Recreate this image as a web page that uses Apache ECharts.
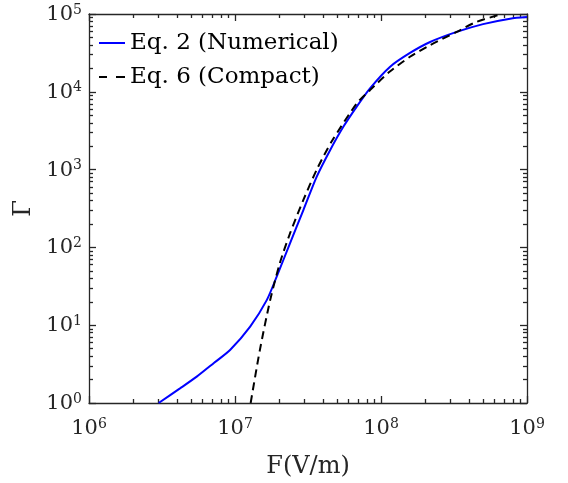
<!DOCTYPE html>
<html>
<head>
<meta charset="utf-8">
<title>Gamma vs F</title>
<script src="https://cdn.jsdelivr.net/npm/echarts@6/dist/echarts.min.js"></script>
<style>
  html, body { margin: 0; padding: 0; background: #fff; }
  #chart { width: 568px; height: 483px; }
</style>
</head>
<body>
<div id="chart"></div>
<script>
// Eq. 2 (numerical) curve
const numF = [3.0e6, 4.2e6, 5.47e6, 7.2e6, 9.25e6, 1.27e7, 1.65e7, 1.93e7, 2.38e7, 2.94e7, 3.63e7, 4.48e7, 5.52e7, 6.82e7, 8.41e7, 1.15e8, 1.58e8, 2.17e8, 3.3e8, 5.0e8, 7.66e8, 1e9]
const numGamma = [1, 1.54, 2.18, 3.29, 4.8, 9.6, 21, 42, 113, 302, 813, 1778, 3548, 6457, 11100, 20900, 31600, 43700, 58900, 74100, 87100, 91200]

// Eq. 6 (compact) curve
const cmpF = [1.28e7, 1.48e7, 1.74e7, 2.03e7, 2.38e7, 2.94e7, 3.63e7, 4.59e7, 6.82e7, 8.41e7, 1.15e8, 1.58e8, 2.17e8, 3.3e8, 4.52e8, 6.76e8]
const cmpGamma = [1, 4.79, 20.9, 63.1, 151, 407, 1000, 2291, 7079, 10500, 18200, 28200, 39800, 58900, 79400, 100000]

// axis range in decades
const xDecades = [6, 9]
const yDecades = [0, 5]

function minorExps(d0, d1) {
  const out = []
  for (let d = d0; d < d1; d++) {
    for (let k = 2; k <= 9; k++) out.push(d + Math.log10(k))
  }
  return out
}

const FONT = 'DejaVu Serif'
const AXIS_COLOR = '#262626'

const chart = echarts.init(document.getElementById('chart'))

function powLabel(v) {
  return '{b|10}{e|' + Math.round(Math.log10(v)) + '}'
}

const labelRich = {
  b: { fontSize: 21, fontFamily: FONT, color: AXIS_COLOR, lineHeight: 22, verticalAlign: 'bottom' },
  e: { fontSize: 14, fontFamily: FONT, color: AXIS_COLOR, lineHeight: 16, verticalAlign: 'top', padding: [0, 0, 10, 0] }
}

// tick-only overlay axes, in decade units
function tickAxis(pos, range, minor, showLine) {
  const tick = {
    show: true,
    inside: true,
    length: minor ? 4 : 7,
    lineStyle: { color: AXIS_COLOR, width: 1.3 }
  }
  if (minor) tick.customValues = minorExps(range[0], range[1])
  return {
    type: 'value',
    position: pos,
    min: range[0],
    max: range[1],
    interval: 1,
    splitLine: { show: false },
    axisLine: { show: showLine, onZero: false, lineStyle: { color: AXIS_COLOR, width: 1.3 } },
    axisTick: tick,
    axisLabel: { show: true, formatter: () => '', color: 'rgba(0,0,0,0)' }
  }
}

const option = {
  animation: false,
  grid: { left: 89, right: 41, top: 14, bottom: 80, outerBoundsMode: 'none' },
  legend: {
    left: 99,
    top: 31,
    padding: 0,
    orient: 'vertical',
    itemWidth: 26,
    itemHeight: 2,
    itemGap: 10,
    textStyle: { fontFamily: FONT, fontSize: 23, color: '#000', lineHeight: 24 },
    data: [
      { name: 'Eq. 2 (Numerical)', icon: 'path://M0,0h26v2h-26z' },
      { name: 'Eq. 6 (Compact)', icon: 'path://M0,0h8v2h-8z M17,0h9v2h-9z' }
    ]
  },
  xAxis: [
    {
      type: 'log',
      logBase: 10,
      position: 'bottom',
      min: Math.pow(10, xDecades[0]),
      max: Math.pow(10, xDecades[1]),
      splitLine: { show: false },
      axisLine: { show: true, lineStyle: { color: AXIS_COLOR, width: 1.3 } },
      axisTick: { show: false },
      axisLabel: { show: true, margin: 14, formatter: powLabel, rich: labelRich },
      name: 'F(V/m)',
      nameLocation: 'middle',
      nameGap: 52,
      nameTextStyle: { fontFamily: FONT, fontSize: 24, color: AXIS_COLOR }
    },
    tickAxis('bottom', xDecades, false, false),
    tickAxis('bottom', xDecades, true, false),
    tickAxis('top', xDecades, false, true),
    tickAxis('top', xDecades, true, false)
  ],
  yAxis: [
    {
      type: 'log',
      logBase: 10,
      position: 'left',
      min: Math.pow(10, yDecades[0]),
      max: Math.pow(10, yDecades[1]),
      splitLine: { show: false },
      axisLine: { show: true, lineStyle: { color: AXIS_COLOR, width: 1.3 } },
      axisTick: { show: false },
      axisLabel: { show: true, margin: 7, formatter: powLabel, rich: labelRich },
      name: 'Γ',
      nameLocation: 'middle',
      nameGap: 50,
      nameRotate: 90,
      nameTextStyle: { fontFamily: FONT, fontSize: 24, color: AXIS_COLOR }
    },
    tickAxis('left', yDecades, false, false),
    tickAxis('left', yDecades, true, false),
    tickAxis('right', yDecades, false, true),
    tickAxis('right', yDecades, true, false)
  ],
  series: [
    {
      name: 'Eq. 2 (Numerical)',
      type: 'line',
      xAxisIndex: 0,
      yAxisIndex: 0,
      smooth: 0.25,
      showSymbol: false,
      symbol: 'none',
      data: numF.map((f, i) => [f, numGamma[i]]),
      lineStyle: { color: '#0000ff', width: 2 },
      itemStyle: { color: '#0000ff' }
    },
    {
      name: 'Eq. 6 (Compact)',
      type: 'line',
      xAxisIndex: 0,
      yAxisIndex: 0,
      smooth: 0.25,
      showSymbol: false,
      symbol: 'none',
      data: cmpF.map((f, i) => [f, cmpGamma[i]]),
      lineStyle: { color: '#000', width: 2, type: [8, 5] },
      itemStyle: { color: '#000' }
    }
  ]
}

chart.setOption(option)
</script>
</body>
</html>
